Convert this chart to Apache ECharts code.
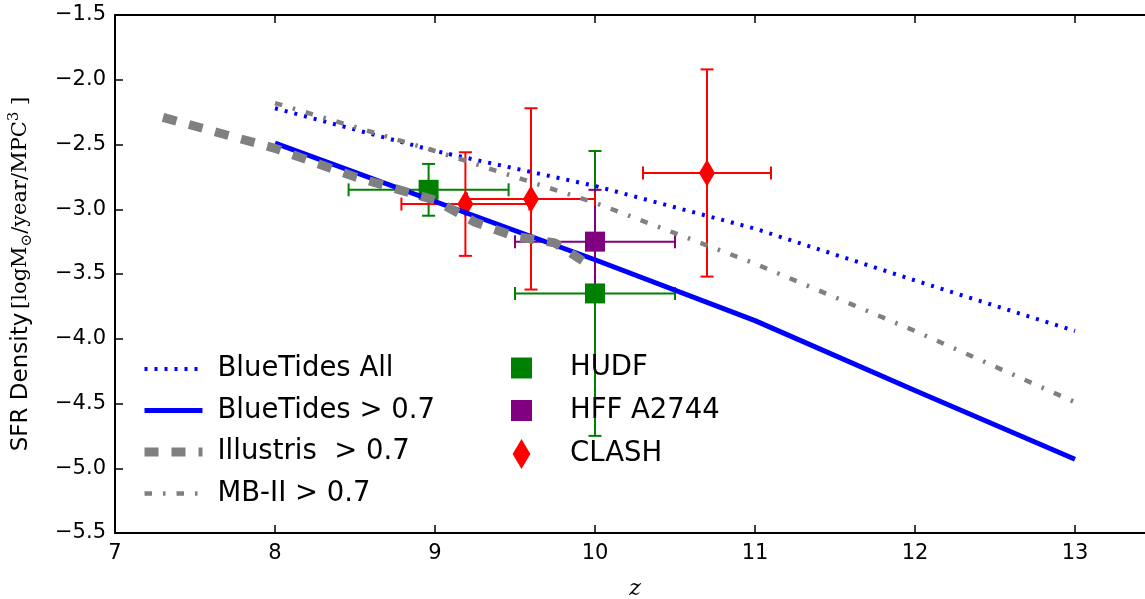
<!DOCTYPE html>
<html>
<head>
<meta charset="utf-8">
<title>SFR density vs redshift</title>
<script src="https://cdn.jsdelivr.net/npm/echarts@6/dist/echarts.min.js"></script>
<style>
  html, body { margin: 0; padding: 0; background: #fff; }
  #chart { width: 1145px; height: 599px; }
</style>
</head>
<body>
<div id="chart"></div>
<script>
// simulation curves
const zGrid = [8, 9, 10, 11, 12, 13];
const blueTidesAll = [-2.22, -2.55, -2.82, -3.15, -3.55, -3.94];
const blueTidesCut = [-2.49, -2.94, -3.39, -3.86, -4.40, -4.93];
const mb2Cut = [-2.18, -2.55, -2.95, -3.42, -3.94, -4.49];
const illustrisZ = [7.3, 8.0, 8.5, 9.0, 9.25, 9.5, 9.75, 9.95];
const illustrisCut = [-2.29, -2.53, -2.75, -2.93, -3.10, -3.21, -3.26, -3.42];

// observations (z, log SFR density, errors)
const hudfZ = [8.96, 10.0];
const hudfSFR = [-2.85, -3.65];
const hudfZErr = [0.5, 0.5];
const hudfSFRErr = [0.2, 1.1];

const hffZ = [10.0];
const hffSFR = [-3.25];
const hffZErr = [0.5];
const hffSFRErr = [0.4];

const clashZ = [9.19, 9.6, 10.7];
const clashSFR = [-2.96, -2.92, -2.72];
const clashZErr = [0.4, 0.4, 0.4];
const clashSFRErr = [0.4, 0.7, 0.8];

const yTicks = [-5.5, -5.0, -4.5, -4.0, -3.5, -3.0, -2.5, -2.0, -1.5];

const pairs = (xs, ys) => xs.map((x, i) => [x, ys[i]]);
const minus = s => String(s).replace('-', '\u2212');

const SQUARE = 'path://M0,0H10V10H0Z';
const DIAMOND = 'path://M8,0L16,13.5L8,27L0,13.5Z';

// line styles, shared by the series and their legend samples
const styleAll = { color: '#0000ff', width: 4, type: [3, 7] };
const styleCut = { color: '#0000ff', width: 5, type: 'solid' };
const styleIll = { color: '#808080', width: 9, type: [14, 13] };
const styleMB2 = { color: '#808080', width: 4.5, type: [7.5, 11, 2.5, 11] };

function errorBars(name, color, xs, xErr, ys, yErr) {
  return {
    type: 'custom',
    name: name + ' err',
    silent: true,
    data: xs.map((x, i) => [x, ys[i], x - xErr[i], x + xErr[i], ys[i] - yErr[i], ys[i] + yErr[i]]),
    encode: { x: 0, y: 1 },
    renderItem(params, api) {
      const c = api.coord([api.value(0), api.value(1)]);
      const l = api.coord([api.value(2), api.value(1)]);
      const r = api.coord([api.value(3), api.value(1)]);
      const b = api.coord([api.value(0), api.value(4)]);
      const t = api.coord([api.value(0), api.value(5)]);
      const cap = 6.5;
      const style = { stroke: color, lineWidth: 2 };
      const seg = (x1, y1, x2, y2) => ({ type: 'line', shape: { x1, y1, x2, y2 }, style });
      return {
        type: 'group',
        children: [
          seg(l[0], c[1], r[0], c[1]),
          seg(c[0], t[1], c[0], b[1]),
          seg(l[0], c[1] - cap, l[0], c[1] + cap),
          seg(r[0], c[1] - cap, r[0], c[1] + cap),
          seg(c[0] - cap, t[1], c[0] + cap, t[1]),
          seg(c[0] - cap, b[1], c[0] + cap, b[1])
        ]
      };
    }
  };
}

function markers(name, color, xs, ys, symbol, size) {
  return {
    type: 'scatter',
    name: name,
    data: pairs(xs, ys),
    symbol: symbol,
    symbolSize: size,
    itemStyle: { color: color, opacity: 1 }
  };
}

const axisBlack = { lineStyle: { color: '#000', width: 2 } };
const tickIn = { show: true, inside: true, length: 8, lineStyle: { color: '#000', width: 1.5 } };

const chart = echarts.init(document.getElementById('chart'));
chart.setOption({
  animation: false,
  backgroundColor: '#fff',
  textStyle: { fontFamily: 'DejaVu Sans' },
  grid: { left: 115, right: -10, top: 15, bottom: 66, containLabel: false, outerBoundsMode: 'none' },
  xAxis: [
    {
      type: 'value', min: 7, max: 13.5, interval: 1,
      position: 'bottom',
      name: 'z', nameLocation: 'middle', nameGap: 45,
      nameTextStyle: { fontFamily: 'DejaVu Serif', fontStyle: 'italic', fontSize: 22, color: '#000' },
      axisLine: axisBlack, axisTick: tickIn, splitLine: { show: false },
      axisLabel: { color: '#000', fontSize: 21, margin: 10, showMaxLabel: false }
    },
    {
      type: 'value', min: 7, max: 13.5, interval: 1,
      position: 'top',
      axisLine: axisBlack, axisTick: tickIn, splitLine: { show: false },
      axisLabel: { show: false }
    }
  ],
  yAxis: [
    {
      type: 'value', min: -5.5, max: -1.5, interval: 0.5,
      position: 'left',
      name: '{a|SFR Density} {b|[logM}{s|\u2299}{b|/year/MPC}{p|3}{b| ]}',
      nameLocation: 'middle', nameGap: 80, nameRotate: 90,
      nameTextStyle: {
        color: '#000',
        rich: {
          a: { fontFamily: 'DejaVu Sans', fontSize: 23, color: '#000', lineHeight: 28 },
          b: { fontFamily: 'DejaVu Serif', fontSize: 21, color: '#000', lineHeight: 28 },
          s: { fontFamily: 'DejaVu Serif', fontSize: 15, color: '#000', verticalAlign: 'bottom' },
          p: { fontFamily: 'DejaVu Serif', fontSize: 15, color: '#000', verticalAlign: 'top' }
        }
      },
      axisLine: axisBlack, axisTick: tickIn, splitLine: { show: false },
      axisLabel: {
        color: '#000', fontSize: 21, margin: 9,
        formatter: v => minus(yTicks.find(t => Math.abs(t - v) < 1e-6).toFixed(1))
      }
    },
    {
      type: 'value', min: -5.5, max: -1.5, interval: 0.5,
      position: 'right',
      axisLine: axisBlack, axisTick: tickIn, splitLine: { show: false },
      axisLabel: { show: false }
    }
  ],
  legend: [
    {
      data: [
        { name: 'BlueTides All', lineStyle: styleAll },
        { name: 'BlueTides > 0.7', lineStyle: styleCut },
        { name: 'Illustris  > 0.7', lineStyle: styleIll },
        { name: 'MB-II > 0.7', lineStyle: styleMB2 }
      ],
      orient: 'vertical', left: 135, top: 350,
      itemWidth: 58, itemHeight: 20, itemGap: 13.5,
      selectedMode: false,
      itemStyle: { color: 'rgba(0,0,0,0)', borderWidth: 0 },
      textStyle: { fontFamily: 'DejaVu Sans', fontSize: 27.5, color: '#000', padding: [0, 0, 0, 10] }
    },
    {
      data: ['HUDF', 'HFF A2744', 'CLASH'],
      orient: 'vertical', left: 506, top: 349,
      itemWidth: 21, itemHeight: 30, itemGap: 14.5,
      selectedMode: false,
      textStyle: { fontFamily: 'DejaVu Sans', fontSize: 27.5, color: '#000', padding: [0, 0, 0, 33] }
    }
  ],
  series: [
    errorBars('HUDF', '#008000', hudfZ, hudfZErr, hudfSFR, hudfSFRErr),
    markers('HUDF', '#008000', hudfZ, hudfSFR, SQUARE, 20),
    errorBars('HFF A2744', '#800080', hffZ, hffZErr, hffSFR, hffSFRErr),
    markers('HFF A2744', '#800080', hffZ, hffSFR, SQUARE, 20),
    errorBars('CLASH', '#ff0000', clashZ, clashZErr, clashSFR, clashSFRErr),
    markers('CLASH', '#ff0000', clashZ, clashSFR, DIAMOND, [16, 27]),
    {
      type: 'line', name: 'BlueTides All', data: pairs(zGrid, blueTidesAll),
      symbol: 'none', color: '#0000ff', lineStyle: styleAll
    },
    {
      type: 'line', name: 'BlueTides > 0.7', data: pairs(zGrid, blueTidesCut),
      symbol: 'none', color: '#0000ff', lineStyle: styleCut
    },
    {
      type: 'line', name: 'Illustris  > 0.7', data: pairs(illustrisZ, illustrisCut),
      symbol: 'none', color: '#808080', lineStyle: styleIll
    },
    {
      type: 'line', name: 'MB-II > 0.7', data: pairs(zGrid, mb2Cut),
      symbol: 'none', color: '#808080', lineStyle: styleMB2
    }
  ]
});
</script>
</body>
</html>
